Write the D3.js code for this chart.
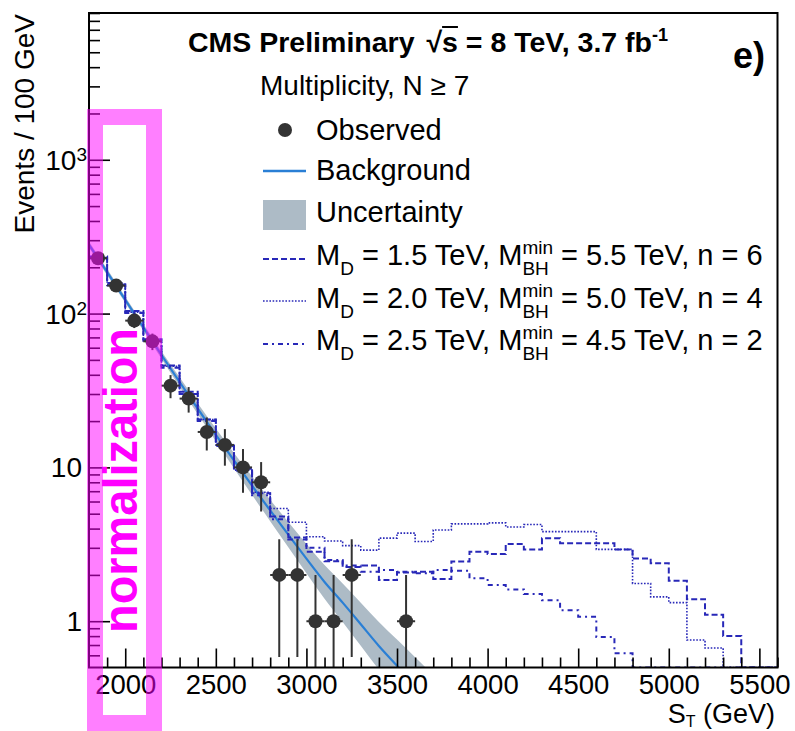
<!DOCTYPE html>
<html>
<head>
<meta charset="utf-8">
<script src="https://cdn.jsdelivr.net/npm/d3@7"></script>
<style>
  body { margin: 0; background: #fff; }
  svg { display: block; }
</style>
</head>
<body>
<svg id="chart" width="795" height="731"></svg>
<script>
// ---- data -------------------------------------------------------------
// Observed events per 100 GeV bin (bin centres in GeV)
const obsST = [1850, 1950, 2050, 2150, 2250, 2350, 2450, 2550, 2650, 2750,
               2850, 2950, 3050, 3150, 3250, 3350, 3450, 3550];
const obsN  = [229, 152, 90, 66, 34, 28, 17, 14, 10, 8,
               2, 2, 1, 1, 2, 0, 0, 1];

// Background fit and its uncertainty band, sampled along S_T
const bgST   = [1800, 1900, 2000, 2100, 2200, 2300, 2400, 2500, 2600, 2700,
                2800, 2900, 3000, 3100, 3200, 3300, 3400, 3500, 3600, 3700];
const bgFit  = [280.5, 186, 123, 81.3, 53.8, 35.9, 24.1, 16.3, 11.1, 7.6,
                5.25, 3.65, 2.55, 1.80, 1.32, 0.955, 0.69, 0.513, 0.38, 0.282];
const bgLow  = [267.9, 177.8, 117.5, 77.3, 50.8, 33.5, 22.2, 14.8, 9.89, 6.62,
                4.47, 3.02, 2.05, 1.40, 0.989, 0.692, 0.484, 0.347, 0.248, 0.178];
const bgHigh = [293.8, 195.0, 128.8, 85.5, 57.0, 38.5, 26.1, 17.9, 12.4, 8.73,
                6.17, 4.41, 3.18, 2.32, 1.76, 1.32, 0.989, 0.759, 0.582, 0.447];

// Signal + background histograms, lower bin edges (GeV), 100 GeV bins
const sigBinLow = [1800, 1900, 2000, 2100, 2200, 2300, 2400, 2500, 2600, 2700,
                   2800, 2900, 3000, 3100, 3200, 3300, 3400, 3500, 3600, 3700,
                   3800, 3900, 4000, 4100, 4200, 4300, 4400, 4500, 4600, 4700,
                   4800, 4900, 5000, 5100, 5200, 5300, 5400, 5500];
const sigBinWidth = 100;
// M_D = 1.5 TeV, M_BH^min = 5.5 TeV, n = 6
const sigMD15 = [235, 158, 104, 68, 46, 31, 20.5, 14.2, 9.8, 6.8,
                 4.8, 3.5, 2.83, 2.45, 2.25, 2.3, 1.85, 2.07, 2.1, 1.88,
                 2.44, 2.83, 2.73, 3.18, 2.93, 3.46, 3.21, 3.21, 3.21, 2.93,
                 2.56, 2.38, 1.83, 1.39, 1.1, 0.8, 0, 0];
// M_D = 2.0 TeV, M_BH^min = 5.0 TeV, n = 4
const sigMD20 = [231, 155, 102, 67, 45.5, 30, 20.5, 14, 9.6, 6.9,
                 5.4, 4.4, 3.54, 3.32, 3.1, 2.9, 3.47, 3.74, 3.3, 3.92,
                 4.29, 4.29, 4.36, 4.1, 4.25, 3.82, 3.82, 3.82, 2.93, 2.93,
                 1.76, 1.44, 1.32, 0.755, 0.67, 0, 0, 0];
// M_D = 2.5 TeV, M_BH^min = 4.5 TeV, n = 2
const sigMD25 = [229, 153, 101, 66.5, 44.5, 30, 20, 13.8, 9.5, 6.6,
                 4.6, 3.4, 3.0, 2.5, 2.3, 2.1, 2.15, 2.1, 2.05, 2.15,
                 2.13, 1.9, 1.72, 1.61, 1.5, 1.37, 1.18, 1.07, 0.79, 0.62,
                 0, 0, 0, 0, 0, 0, 0, 0];

// Axis ticks
const xMajorTicks = [2000, 2500, 3000, 3500, 4000, 4500, 5000, 5500];
const xMinorTicks = [1900, 2100, 2200, 2300, 2400, 2600, 2700, 2800, 2900,
                     3100, 3200, 3300, 3400, 3600, 3700, 3800, 3900,
                     4100, 4200, 4300, 4400, 4600, 4700, 4800, 4900,
                     5100, 5200, 5300, 5400, 5600];
const yMajorTicks = [1, 10, 100, 1000];
const yMinorTicks = [0.6, 0.7, 0.8, 0.9, 2, 3, 4, 5, 6, 7, 8, 9,
                     20, 30, 40, 50, 60, 70, 80, 90,
                     200, 300, 400, 500, 600, 700, 800, 900,
                     2000, 3000, 4000, 5000, 6000, 7000, 8000, 9000];
const yTickLabels = [{v: 1, base: "1", exp: ""}, {v: 10, base: "10", exp: ""},
                     {v: 100, base: "10", exp: "2"}, {v: 1000, base: "10", exp: "3"}];

// ---- setup ------------------------------------------------------------
const FONT = "'Liberation Sans', Arial, Helvetica, sans-serif";
const svg = d3.select("#chart");
const frame = {left: 89, top: 13, right: 777.5, bottom: 667.5};

const x = d3.scaleLinear().domain([1800, 5600]).range([frame.left, frame.right]);
const y = d3.scaleLog().domain([0.5, 9000]).range([frame.bottom, frame.top]);
const yFloor = y.domain()[0];

const COL_BG = "#2a7fd5";
const COL_BAND = "#adbbc6";
const COL_SIG = "#2828b8";
const COL_DATA = "#333333";

svg.append("rect").attr("width", 795).attr("height", 731).attr("fill", "#fff");

svg.append("clipPath").attr("id", "plotclip")
  .append("rect")
  .attr("x", frame.left).attr("y", frame.top)
  .attr("width", frame.right - frame.left).attr("height", frame.bottom - frame.top);

const plot = svg.append("g").attr("clip-path", "url(#plotclip)");

// Text made of pieces with sub/superscripts; returns the group
function rich(parent, x0, y0, parts, opt) {
  const g = parent.append("g");
  let cx = 0;
  const put = (p, at) => {
    const t = g.append("text")
      .attr("x", at).attr("y", p.shift || 0)
      .attr("font-family", FONT)
      .attr("font-size", p.size || opt.size)
      .attr("font-weight", (p.bold !== undefined ? p.bold : opt.bold) ? "bold" : "normal")
      .attr("fill", opt.fill || "#000")
      .style("white-space", "pre")
      .text(p.text);
    const w = t.node().getComputedTextLength();
    if (p.overline) {
      g.append("line").attr("x1", at).attr("x2", at + w)
        .attr("y1", p.overline).attr("y2", p.overline)
        .attr("stroke", opt.fill || "#000").attr("stroke-width", 2);
    }
    return w;
  };
  parts.forEach(p => {
    if (p.stack) {
      let w = 0;
      p.stack.forEach(s => { w = Math.max(w, put(s, cx)); });
      cx += w;
    } else {
      cx += put(p, cx) + (p.gap || 0);
    }
  });
  let dx = 0;
  if (opt.anchor === "end") dx = -cx;
  else if (opt.anchor === "middle") dx = -cx / 2;
  g.attr("transform", `translate(${x0 + dx},${y0})`);
  return g;
}

// ---- uncertainty band and background fit -------------------------------
const bandArea = d3.area()
  .x((d, i) => x(bgST[i]))
  .y0((d, i) => y(bgLow[i]))
  .y1((d, i) => y(bgHigh[i]))
  .curve(d3.curveMonotoneX);
plot.append("path").datum(bgST).attr("d", bandArea).attr("fill", COL_BAND);

const fitLine = d3.line()
  .x((d, i) => x(bgST[i]))
  .y((d, i) => y(bgFit[i]))
  .curve(d3.curveMonotoneX);
plot.append("path").datum(bgST).attr("d", fitLine)
  .attr("fill", "none").attr("stroke", COL_BG).attr("stroke-width", 2.2);

// ---- signal + background histograms -----------------------------------
function stepPts(vals) {
  const pts = vals.map((v, i) => [sigBinLow[i], Math.max(v, yFloor)]);
  const last = vals.length - 1;
  pts.push([sigBinLow[last] + sigBinWidth, Math.max(vals[last], yFloor)]);
  return pts;
}
const stepLine = d3.line().x(d => x(d[0])).y(d => y(d[1])).curve(d3.curveStepAfter);
const sigStyles = [
  {vals: sigMD15, dash: "6,3", width: 2},
  {vals: sigMD20, dash: "1.6,1.6", width: 1.6},
  {vals: sigMD25, dash: "5,4,2,4", width: 2}
];
sigStyles.forEach(s => {
  plot.append("path").datum(stepPts(s.vals)).attr("d", stepLine)
    .attr("fill", "none").attr("stroke", COL_SIG)
    .attr("stroke-width", s.width).attr("stroke-dasharray", s.dash);
});

// ---- observed data ------------------------------------------------------
const obs = obsST.map((st, i) => ({st, n: obsN[i]})).filter(d => d.n > 0);
const dataG = plot.append("g");
obs.forEach(d => {
  const err = Math.sqrt(d.n);
  const lo = Math.max(d.n - err, yFloor * 0.5);
  dataG.append("line")
    .attr("x1", x(d.st)).attr("x2", x(d.st))
    .attr("y1", y(lo)).attr("y2", y(d.n + err))
    .attr("stroke", COL_DATA).attr("stroke-width", 2);
  dataG.append("line")
    .attr("x1", x(d.st - sigBinWidth / 2)).attr("x2", x(d.st + sigBinWidth / 2))
    .attr("y1", y(d.n)).attr("y2", y(d.n))
    .attr("stroke", COL_DATA).attr("stroke-width", 2);
  dataG.append("circle").attr("cx", x(d.st)).attr("cy", y(d.n)).attr("r", 7)
    .attr("fill", COL_DATA);
});

// ---- axes ---------------------------------------------------------------
const axG = svg.append("g");
const xMinorAxis = d3.axisBottom(x).tickValues(xMinorTicks).tickSizeInner(-10)
  .tickSizeOuter(0).tickFormat("");
const xMajorAxis = d3.axisBottom(x).tickValues(xMajorTicks).tickSizeInner(-19)
  .tickSizeOuter(0).tickPadding(26.5).tickFormat(d3.format("d"));
const yMinorAxis = d3.axisLeft(y).tickValues(yMinorTicks).tickSizeInner(-11)
  .tickSizeOuter(0).tickFormat("");
const yMajorAxis = d3.axisLeft(y).tickValues(yMajorTicks).tickSizeInner(-21)
  .tickSizeOuter(0).tickFormat("");

[xMinorAxis, xMajorAxis].forEach(a => {
  axG.append("g").attr("transform", `translate(0,${frame.bottom})`).call(a);
});
[yMinorAxis, yMajorAxis].forEach(a => {
  axG.append("g").attr("transform", `translate(${frame.left},0)`).call(a);
});
axG.selectAll(".domain").remove();
axG.selectAll(".tick line").attr("stroke", "#000").attr("stroke-width", 1.6);
axG.selectAll(".tick text")
  .attr("font-family", FONT).attr("font-size", 27.5).attr("fill", "#000")
  .attr("dy", 0);

// y tick labels, e.g. 10^3
yTickLabels.forEach(t => {
  const parts = [{text: t.base}];
  if (t.exp) parts.push({text: t.exp, size: 19, shift: -9});
  rich(svg, t.exp ? 87 : 82, y(t.v) + 10, parts, {size: 28, anchor: "end"});
});

// frame
svg.append("rect")
  .attr("x", frame.left).attr("y", frame.top)
  .attr("width", frame.right - frame.left).attr("height", frame.bottom - frame.top)
  .attr("fill", "none").attr("stroke", "#000").attr("stroke-width", 2);

// axis titles
svg.append("text")
  .attr("transform", "translate(34,14) rotate(-90)")
  .attr("text-anchor", "end")
  .attr("font-family", FONT).attr("font-size", 28)
  .text("Events / 100 GeV");

rich(svg, 775, 723, [
  {text: "S"}, {text: "T", size: 16, shift: 4}, {text: " (GeV)"}
], {size: 27, anchor: "end"});

// ---- header texts -----------------------------------------------------------
rich(svg, 188, 52, [
  {text: "CMS Preliminary ", gap: 4},
  {text: "\u221A"}, {text: "s", overline: -25},
  {text: " = 8 TeV, 3.7 fb"},
  {text: "-1", size: 18, shift: -11}
], {size: 28.5, bold: true});

svg.append("text").attr("x", 733).attr("y", 68)
  .attr("font-family", FONT).attr("font-size", 36).attr("font-weight", "bold")
  .text("e)");

svg.append("text").attr("x", 260).attr("y", 95)
  .attr("font-family", FONT).attr("font-size", 28)
  .text("Multiplicity, N \u2265 7");

// ---- legend ------------------------------------------------------------
const leg = svg.append("g");
const legX0 = 263, legX1 = 306, legTextX = 316;
const LEG_SIZE = 29, LEG_SUB = 19;

leg.append("circle").attr("cx", 285).attr("cy", 130).attr("r", 7).attr("fill", COL_DATA);
rich(leg, legTextX, 140, [{text: "Observed"}], {size: LEG_SIZE});

leg.append("line").attr("x1", legX0).attr("x2", legX1).attr("y1", 171).attr("y2", 171)
  .attr("stroke", COL_BG).attr("stroke-width", 2.5);
rich(leg, legTextX, 180, [{text: "Background"}], {size: LEG_SIZE});

leg.append("rect").attr("x", legX0).attr("y", 200).attr("width", legX1 - legX0)
  .attr("height", 30).attr("fill", COL_BAND);
rich(leg, legTextX, 222, [{text: "Uncertainty"}], {size: LEG_SIZE});

const sigLegend = [
  {md: "1.5", mbh: "5.5", n: "6", ly: 259, ty: 265},
  {md: "2.0", mbh: "5.0", n: "4", ly: 301, ty: 308},
  {md: "2.5", mbh: "4.5", n: "2", ly: 344, ty: 350}
];
sigLegend.forEach((s, i) => {
  leg.append("line").attr("x1", legX0).attr("x2", legX1).attr("y1", s.ly).attr("y2", s.ly)
    .attr("stroke", COL_SIG).attr("stroke-width", sigStyles[i].width)
    .attr("stroke-dasharray", sigStyles[i].dash);
  rich(leg, legTextX, s.ty, [
    {text: "M"}, {text: "D", size: LEG_SUB, shift: 10},
    {text: ` = ${s.md} TeV, M`},
    {stack: [{text: "min", size: LEG_SUB, shift: -11}, {text: "BH", size: LEG_SUB, shift: 10}]},
    {text: ` = ${s.mbh} TeV, n = ${s.n}`}
  ], {size: LEG_SIZE});
});

// ---- normalization region marker ---------------------------------------
svg.append("rect")
  .attr("x", 95).attr("y", 117).attr("width", 59).attr("height", 606)
  .attr("fill", "none").attr("stroke", "#ff00ff").attr("stroke-opacity", 0.5)
  .attr("stroke-width", 16);
svg.append("text")
  .attr("transform", "translate(137,633) rotate(-90)")
  .attr("font-family", FONT).attr("font-size", 48).attr("font-weight", "bold")
  .attr("fill", "#ff00ff")
  .attr("textLength", 305).attr("lengthAdjust", "spacingAndGlyphs")
  .text("normalization");
</script>
</body>
</html>
